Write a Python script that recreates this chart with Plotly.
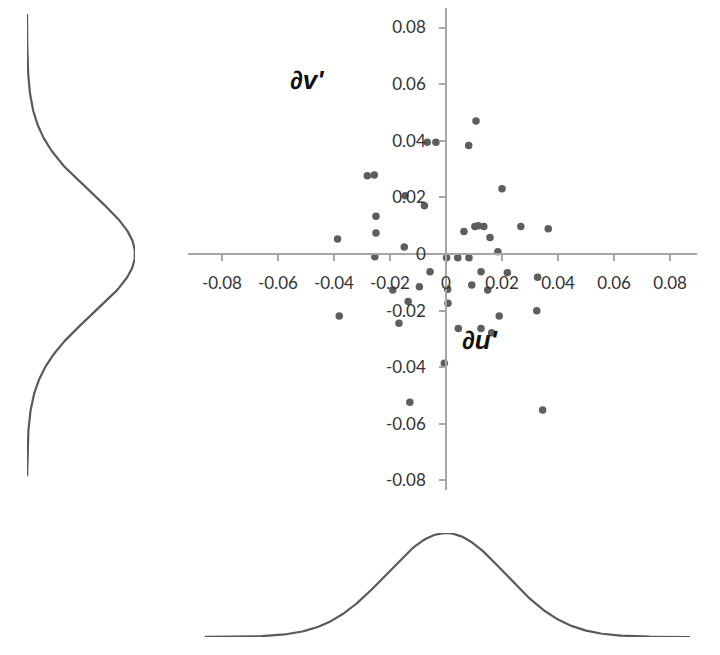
import numpy as np
import plotly.graph_objects as go

# scatter data (du', dv')
du = [-0.0067, -0.0036, -0.0281, -0.0256, -0.0146, -0.0077, -0.0250, -0.0250, -0.0387, -0.0149,
      -0.0254, 0.0107, 0.0081, 0.0200, 0.0064, 0.0103, 0.0115, 0.0135, 0.0157, 0.0267,
      0.0365, 0.0185, 0.0002, 0.0042, 0.0082, -0.0057, -0.0095, -0.0190, -0.0135, -0.0381,
      -0.0168, -0.0006, 0.0007, 0.0006, 0.0125, 0.0092, 0.0149, 0.0219, 0.0327, 0.0324,
      0.0190, 0.0044, 0.0125, 0.0163, -0.0129, 0.0345]
dv = [0.0395, 0.0395, 0.0276, 0.0279, 0.0206, 0.0170, 0.0133, 0.0074, 0.0053, 0.0025,
      -0.0010, 0.0470, 0.0383, 0.0230, 0.0079, 0.0097, 0.0100, 0.0097, 0.0058, 0.0097,
      0.0089, 0.0008, -0.0013, -0.0013, -0.0013, -0.0063, -0.0116, -0.0127, -0.0168, -0.0219,
      -0.0245, -0.0386, -0.0174, -0.0125, -0.0063, -0.0110, -0.0127, -0.0066, -0.0082, -0.0201,
      -0.0219, -0.0263, -0.0263, -0.0278, -0.0524, -0.0551]

tick_vals = [-0.08, -0.06, -0.04, -0.02, 0, 0.02, 0.04, 0.06, 0.08]
tick_text = ["-0.08", "-0.06", "-0.04", "-0.02", "0", "0.02", "0.04", "0.06", "0.08"]

# marginal normal curves (theoretical distributions)
u_mu, u_sigma = 0.0, 0.0212
v_mu, v_sigma = 0.0, 0.0212
u_span = [-0.0861, 0.0871]
v_span = [-0.0785, 0.0848]

# page body has an 8px margin; figure is sized to fit the window
OFF = 8
WIN_W, WIN_H = 720, 655
W, H = WIN_W - OFF, WIN_H - OFF


def px_x(p):
    return min(1.0, max(0.0, (p - OFF) / W))


def px_y(p):
    return min(1.0, max(0.0, (WIN_H - p) / H))


x_range = [-0.0921, 0.0896]
y_range = [-0.0834, 0.0869]
x_dom = [px_x(188), px_x(697)]
y_dom = [px_y(490), px_y(8)]

x_zero_pos = x_dom[0] + (0 - x_range[0]) / (x_range[1] - x_range[0]) * (x_dom[1] - x_dom[0])
y_zero_pos = y_dom[0] + (0 - y_range[0]) / (y_range[1] - y_range[0]) * (y_dom[1] - y_dom[0])

uu = np.linspace(u_span[0], u_span[1], 300)
pu = np.exp(-0.5 * ((uu - u_mu) / u_sigma) ** 2)
vv = np.linspace(v_span[0], v_span[1], 300)
pv = np.exp(-0.5 * ((vv - v_mu) / v_sigma) ** 2)

curve_col = "#5a5a5a"
fig = go.Figure()
fig.add_trace(go.Scatter(x=du, y=dv, mode="markers",
                         marker=dict(color="#5e5e5e", size=7.5), xaxis="x", yaxis="y"))
fig.add_trace(go.Scatter(x=pv, y=vv, mode="lines",
                         line=dict(color=curve_col, width=2.2), xaxis="x2", yaxis="y"))
fig.add_trace(go.Scatter(x=uu, y=pu, mode="lines",
                         line=dict(color=curve_col, width=2.2), xaxis="x", yaxis="y3"))

tickfont = dict(family="Lato, Open Sans, sans-serif", size=17, color="#333333")
labelfont = dict(family="Liberation Sans, Arial, sans-serif", size=26, color="#111111")
fig.update_layout(
    width=W, height=H, showlegend=False,
    margin=dict(l=0, r=0, t=0, b=0),
    paper_bgcolor="white", plot_bgcolor="rgba(0,0,0,0)",
    xaxis=dict(domain=x_dom, range=x_range, anchor="free", position=y_zero_pos,
               showline=True, linecolor="#a6a6a6", linewidth=1.5, showgrid=False, zeroline=False,
               tickvals=tick_vals, ticktext=tick_text, ticks="outside", ticklen=6,
               tickcolor="#a6a6a6", tickwidth=1.5, tickfont=tickfont, ticklabelstandoff=8),
    yaxis=dict(domain=y_dom, range=y_range, anchor="free", position=x_zero_pos,
               showline=True, linecolor="#a6a6a6", linewidth=1.5, showgrid=False, zeroline=False,
               tickvals=tick_vals, ticktext=tick_text, ticks="outside", ticklen=6,
               tickcolor="#a6a6a6", tickwidth=1.5, tickfont=tickfont, ticklabelstandoff=10),
    xaxis2=dict(domain=[px_x(27), px_x(135)], range=[0, 1.0], visible=False, anchor="y"),
    yaxis3=dict(domain=[px_y(637), px_y(533)], range=[0, 1.0], visible=False, anchor="x"),
    annotations=[
        dict(x=-0.0495, y=0.0615, xref="x", yref="y", text="<b><i>∂v'</i></b>", showarrow=False,
             font=labelfont),
        dict(x=0.0121, y=-0.0304, xref="x", yref="y", text="<b><i>∂u'</i></b>", showarrow=False,
             font=labelfont),
    ],
)
fig.write_html("out.html")
